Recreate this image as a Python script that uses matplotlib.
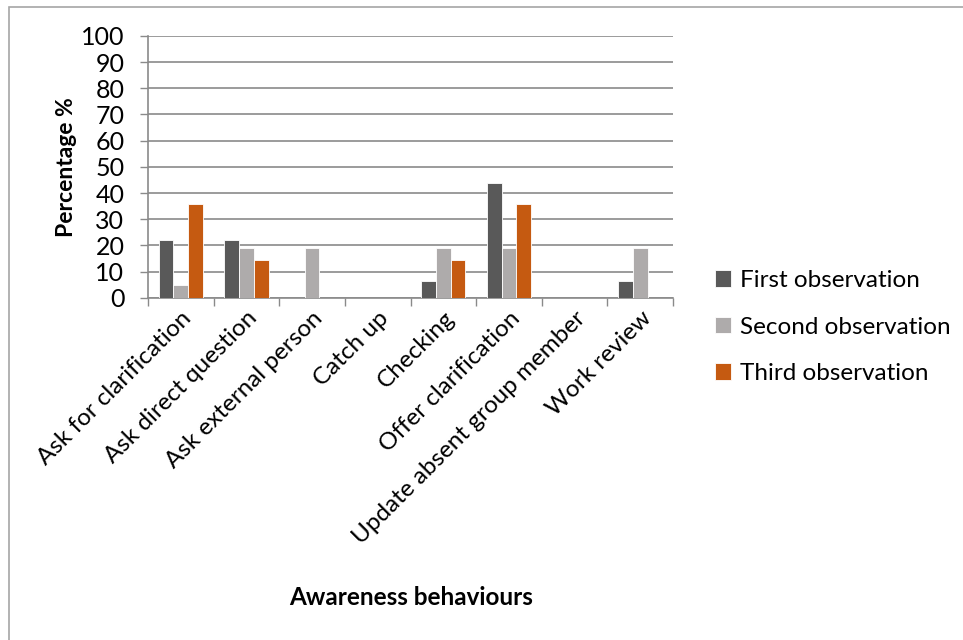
import numpy as np
import matplotlib.pyplot as plt
from matplotlib.patches import Rectangle

plt.rcParams['font.family'] = ['Lato', 'DejaVu Sans']

behaviours = ['Ask for clarification', 'Ask direct question', 'Ask external person',
              'Catch up', 'Checking', 'Offer clarification',
              'Update absent group member', 'Work review']
first_obs = [21.9, 21.9, 0, 0, 6.25, 43.75, 0, 6.25]
second_obs = [4.8, 19.0, 19.0, 0, 19.0, 19.0, 0, 19.0]
third_obs = [35.7, 14.3, 0, 0, 14.3, 35.7, 0, 0]
series_names = ['First observation', 'Second observation', 'Third observation']
colors = ['#595959', '#aeabab', '#c55a11']

fig = plt.figure(figsize=(9.63, 6.4), dpi=100)
ax = fig.add_axes([0.1537, 0.5348, 0.5452, 0.409])

x = np.arange(len(behaviours))
w = 0.224
for k, (vals, name, c) in enumerate(zip([first_obs, second_obs, third_obs], series_names, colors)):
    ax.bar(x + (k - 1) * w, vals, width=w, color=c, edgecolor='white', linewidth=0.6,
           label=name, zorder=3)

ax.set_xlim(-0.5, len(behaviours) - 0.5)
ax.set_ylim(0, 100)
ax.set_yticks(np.arange(0, 101, 10))
ax.yaxis.grid(True, color='#8a8a8a', linewidth=1.2, zorder=0)
ax.set_axisbelow(True)

ax.set_xticks(x)
ax.set_xticklabels(behaviours, rotation=45, ha='right', va='top', rotation_mode='anchor',
                   fontsize=17.5)
ax.tick_params(axis='x', length=0, pad=7)
ax.set_xticks(np.arange(-0.5, len(behaviours)), minor=True)
ax.tick_params(axis='x', which='minor', length=6, color='#8a8a8a', width=1)
ax.tick_params(axis='y', length=6, color='#8a8a8a', width=1, labelsize=18, pad=11)

for s in ['top', 'right']:
    ax.spines[s].set_visible(False)
for s in ['left', 'bottom']:
    ax.spines[s].set_color('#8a8a8a')
    ax.spines[s].set_linewidth(1.2)

ax.set_ylabel('Percentage %', fontsize=16.5, fontweight='bold', labelpad=3)
fig.text(0.427, 0.067, 'Awareness behaviours', fontsize=17.5, fontweight='bold',
         ha='center', va='center')

leg = fig.legend(loc='center left', bbox_to_anchor=(0.72, 0.489), frameon=False,
                 fontsize=17.5, handlelength=0.65, handleheight=0.65, handletextpad=0.35,
                 labelspacing=1.05)

# outer chart frame
fig.patches.append(Rectangle((9 / 963, -0.1), 1.2, 1.1 - 7 / 640, transform=fig.transFigure,
                             fill=False, edgecolor='#a6a6a6', linewidth=1.2))

fig.savefig('out.png', dpi=100)
